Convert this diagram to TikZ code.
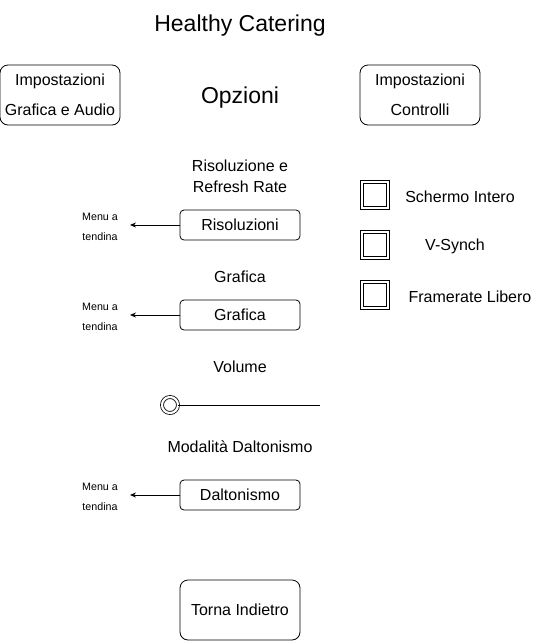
\documentclass[tikz,border=0pt]{standalone}
\usepackage{fontspec}
\setmainfont{Liberation Sans}
\usetikzlibrary{arrows.meta}
\begin{document}
\begin{tikzpicture}[x=1pt,y=-1pt,
  rbox/.style={draw,rounded corners=8pt,line width=0.8pt,minimum width=120pt,minimum height=60pt,inner sep=0pt,align=center,font=\fontsize{16}{30}\selectfont},
  sbox/.style={draw,rounded corners=4pt,line width=0.8pt,minimum width=120pt,minimum height=30pt,inner sep=0pt,font=\fontsize{16}{18}\selectfont},
  lbl/.style={inner sep=0pt,align=center,yshift=-1.5pt,font=\fontsize{16}{21}\selectfont},
  menu/.style={inner sep=0pt,align=center,font=\fontsize{10.7}{20}\selectfont},
  arr/.style={-{Stealth[length=6pt,width=5pt]},line width=0.8pt},
  chk/.style={draw,line width=0.8pt,double distance=2pt,minimum size=26pt,inner sep=0pt}]
\useasboundingbox (0,0) rectangle (541,641);
\node[inner sep=0pt,font=\fontsize{23}{26}\selectfont] (title) at (240,26) {Healthy Catering};
\node[rbox] (ga) at (60,95) {Impostazioni\\Grafica e Audio};
\node[inner sep=0pt,font=\fontsize{23}{26}\selectfont] (opz) at (240,97.5) {Opzioni};
\node[rbox] (ctrl) at (420,95) {Impostazioni\\Controlli};
\node[lbl] (rr) at (240,175) {Risoluzione e\\Refresh Rate};
\node[sbox] (ris) at (240,225) {Risoluzioni};
\coordinate (a1) at (130,225);
\node[menu] (m1) at (100,227) {Menu a\\tendina};
\draw[arr] (ris.west) -- (a1);
\node[lbl] (gl) at (240,275) {Grafica};
\node[sbox] (gr) at (240,315) {Grafica};
\coordinate (a2) at (130,315);
\node[menu] (m2) at (100,317) {Menu a\\tendina};
\draw[arr] (gr.west) -- (a2);
\node[lbl] (vl) at (240,365) {Volume};
\node[draw,circle,line width=0.8pt,double distance=2.2pt,minimum size=16pt,inner sep=0pt] (knob) at (170,405) {};
\coordinate (send) at (320,405);
\draw[line width=0.8pt] (knob.east) -- (send);
\node[lbl] (dl) at (240,445) {Modalità Daltonismo};
\node[sbox] (dal) at (240,495) {Daltonismo};
\coordinate (a3) at (130,495);
\node[menu] (m3) at (100,497) {Menu a\\tendina};
\draw[arr] (dal.west) -- (a3);
\node[rbox] (back) at (240,610) {Torna Indietro};
\node[chk] (c1) at (375,195) {};
\node[chk] (c2) at (375,245) {};
\node[chk] (c3) at (375,295) {};
\node[lbl] (t1) at (460,195) {Schermo Intero};
\node[lbl] (t2) at (455,245) {V-Synch};
\node[lbl] (t3) at (470,295) {Framerate Libero};
\end{tikzpicture}
\end{document}
